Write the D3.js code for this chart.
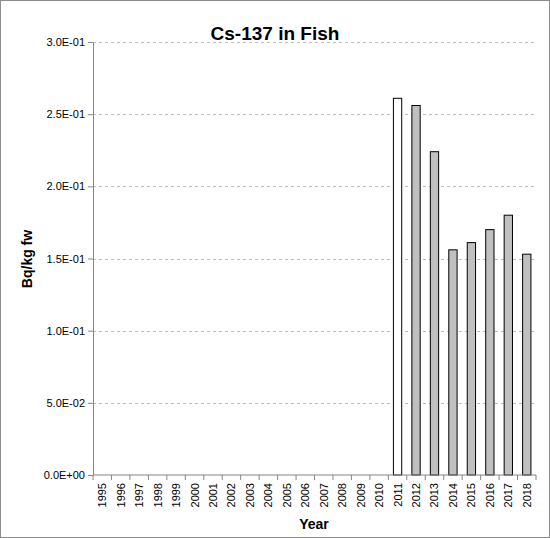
<!DOCTYPE html>
<html><head><meta charset="utf-8">
<script src="https://cdn.jsdelivr.net/npm/d3@7"></script>
<style>body{margin:0;background:#fff}svg{font-family:"Liberation Sans",Arial,sans-serif}</style>
</head><body>
<svg id="chart" width="550" height="538"></svg>
<script>
var years = ["1995","1996","1997","1998","1999","2000","2001","2002","2003","2004","2005","2006","2007","2008","2009","2010","2011","2012","2013","2014","2015","2016","2017","2018"];
var values = [null,null,null,null,null,null,null,null,null,null,null,null,null,null,null,null,0.261,0.256,0.224,0.156,0.161,0.170,0.180,0.153];
var fills = ["white","white","white","white","white","white","white","white","white","white","white","white","white","white","white","white","white","#c0c0c0","#c0c0c0","#c0c0c0","#c0c0c0","#c0c0c0","#c0c0c0","#c0c0c0"];
var yTicks = [0, 0.05, 0.1, 0.15, 0.2, 0.25, 0.3];

var svg = d3.select("#chart");
var plotLeft = 93, plotRight = 536, plotTop = 42, plotBottom = 475;

svg.append('rect').attr('x', 0.5).attr('y', 0.5).attr('width', 549).attr('height', 537)
  .attr('fill', "white").attr('stroke', "#8c8c8c");

var x = d3.scaleBand().domain(years).range([plotLeft, plotRight]).paddingInner(0.55).paddingOuter(0.275);
var y = d3.scaleLinear().domain([0, 0.3]).range([plotBottom, plotTop]);

function fmt(v){
  if (v === 0) return "0.0E+00";
  return v.toExponential(1).toUpperCase().replace("E-", "E-0");
}

svg.append('g').selectAll('line').data(yTicks.slice(1)).join('line')
  .attr('x1', plotLeft).attr('x2', plotRight)
  .attr('y1', d => Math.round(y(d)) + 0.5).attr('y2', d => Math.round(y(d)) + 0.5)
  .attr('stroke', "#bdbdbd").attr('stroke-dasharray', "3,3");

var yAxis = svg.append('g').attr('transform', "translate(" + plotLeft + ",0)")
  .call(d3.axisLeft(y).tickValues(yTicks).tickFormat(fmt).tickSize(5).tickSizeOuter(0));
yAxis.selectAll('text').attr('font-size', 11).attr('fill', "#000");
yAxis.selectAll('line,path').attr('stroke', "#868686");

svg.append('g').selectAll('rect').data(years.map((d, i) => ({y: d, v: values[i], f: fills[i]})).filter(d => d.v != null))
  .join('rect')
  .attr('x', d => x(d.y)).attr('width', x.bandwidth())
  .attr('y', d => y(d.v)).attr('height', d => plotBottom - y(d.v))
  .attr('fill', d => d.f).attr('stroke', "#000").attr('stroke-width', 1);

var step = x.step();
var xAxis = svg.append('g').attr('transform', "translate(0," + plotBottom + ")");
xAxis.append('line').attr('x1', plotLeft).attr('x2', plotRight).attr('stroke', "#868686");
xAxis.selectAll('line.t').data(d3.range(years.length + 1)).join('line').attr('class', 't')
  .attr('x1', i => plotLeft + i * step).attr('x2', i => plotLeft + i * step)
  .attr('y1', 0).attr('y2', 5).attr('stroke', "#868686");
xAxis.selectAll('text').data(years).join('text')
  .attr('transform', d => "translate(" + (x(d) + x.bandwidth() / 2 + 4) + ",8) rotate(-90)")
  .attr('text-anchor', "end").attr('font-size', 11).text(d => d);

svg.append('text').attr('x', 275).attr('y', 40).attr('text-anchor', "middle")
  .attr('font-size', 19).attr('font-weight', "bold").text("Cs-137 in Fish");
svg.append('text').attr('x', 314).attr('y', 529).attr('text-anchor', "middle")
  .attr('font-size', 14).attr('font-weight', "bold").text("Year");
svg.append('text').attr('transform', "translate(32,259) rotate(-90)").attr('text-anchor', "middle")
  .attr('font-size', 14).attr('font-weight', "bold").text("Bq/kg fw");
</script>
</body></html>
